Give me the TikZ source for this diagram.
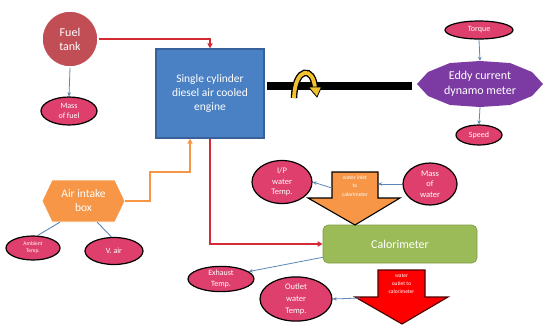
\documentclass[tikz,border=0pt]{standalone}
\usepackage{fontspec}
\setmainfont{Carlito}
\usetikzlibrary{shapes.geometric,arrows.meta,calc}
\definecolor{pinkc}{HTML}{DE3F6C}
\definecolor{tankc}{HTML}{C24E55}
\definecolor{engc}{HTML}{4A80C4}
\definecolor{engb}{HTML}{38609A}
\definecolor{purpc}{HTML}{7C3BA3}
\definecolor{orc}{HTML}{F79646}
\definecolor{grc}{HTML}{9BBB59}
\definecolor{grb}{HTML}{7E9A45}
\definecolor{redc}{HTML}{D42A34}
\definecolor{bluec}{HTML}{5B86B5}
\definecolor{yelc}{HTML}{F2C12E}
\begin{document}
\begin{tikzpicture}[x=1pt,y=-1pt,
  pinkell/.style={ellipse, fill=pinkc, draw=black, line width=1.2pt, text=white, inner sep=0pt, align=center},
  conn/.style={draw=bluec, line width=0.8pt, -{Stealth[length=4pt,width=3.5pt]}},
  plainconn/.style={draw=bluec, line width=0.9pt},
  redline/.style={draw=redc, line width=1.6pt, -{Triangle[length=5pt,width=5pt]}},
  orline/.style={draw=orc, line width=1.6pt, -{Triangle[length=5pt,width=5pt]}},
  wtext/.style={text=white, align=center, inner sep=0pt}]
\useasboundingbox (0,0) rectangle (544,325);

% fuel tank and mass of fuel
\node[circle, fill=tankc, draw=white, line width=1.5pt, minimum size=56pt, text=white, align=center,
  font=\fontsize{12}{14}\selectfont, inner sep=0pt] (fuel) at (70,39) {Fuel\\tank};
\node[pinkell, minimum width=56pt, minimum height=28pt, font=\fontsize{8}{10}\selectfont] (mfuel) at (69,111) {Mass\\of fuel};

% engine
\node[rectangle, fill=engc, draw=engb, line width=1.2pt, minimum width=108pt, minimum height=89pt,
  text=white, align=center, font=\fontsize{11.5}{14}\selectfont] (engine) at (210,93.5)
  {Single cylinder\\diesel air cooled\\engine};

% shaft
\draw[line width=8pt] (267,86) -- (412,86);
\draw[line width=6.5pt, black] (294,98) .. controls (295,66) and (314,66) .. (315,89);
\draw[line width=3.8pt, yelc] (294,98) .. controls (295,66) and (314,66) .. (315,89);
\draw[fill=yelc, draw=black, line width=0.8pt] (308.5,87) -- (321.5,87) -- (317,97) -- cycle;

% eddy current dynamometer
\fill[purpc] (417,84) -- (428,72) -- (450,63) -- (480,61) -- (510,63) -- (532,72) -- (543,84)
  -- (532,96) -- (510,105) -- (480,107) -- (450,105) -- (428,96) -- cycle;
\node[wtext, minimum width=126pt, minimum height=46pt, font=\fontsize{12}{15}\selectfont] (eddy) at (480,84)
  {Eddy current\\dynamo meter};
\node[pinkell, minimum width=68pt, minimum height=18pt, font=\fontsize{8}{10}\selectfont] (torque) at (479,30) {Torque};
\node[pinkell, minimum width=46pt, minimum height=20pt, font=\fontsize{8}{10}\selectfont] (speed) at (479,135) {Speed};

% air intake
\fill[orc] (42,201) -- (52,180) -- (115,180) -- (125,201) -- (115,222) -- (52,222) -- cycle;
\draw[white, line width=0.8pt] (42,201) -- (52,180) -- (115,180) -- (125,201) -- (115,222) -- (52,222) -- cycle;
\node[wtext, minimum width=83pt, minimum height=42pt, font=\fontsize{11.5}{14}\selectfont] (air) at (83.5,201)
  {Air intake\\box};
\node[pinkell, minimum width=54pt, minimum height=24pt, font=\fontsize{5.5}{7}\selectfont] (amb) at (33,248) {Ambient\\Temp.};
\node[pinkell, minimum width=58pt, minimum height=27pt, font=\fontsize{8}{10}\selectfont] (vair) at (114,251) {V. air};

% calorimeter
\node[rectangle, rounded corners=5pt, fill=grc, draw=grb, line width=0.6pt, minimum width=154pt, minimum height=38pt,
  text=white, font=\fontsize{12}{14}\selectfont] (calo) at (400,244) {Calorimeter};

% water inlet block arrow
\draw[fill=orc, draw=black, line width=1.1pt] (332,172) -- (378,172) -- (378,198) -- (400,198) -- (355,225)
  -- (308,198) -- (332,198) -- cycle;
\node[wtext, font=\fontsize{5.5}{8.5}\selectfont] (inlet) at (355,186) {water inlet\\to\\calorimeter};
\node[pinkell, minimum width=60pt, minimum height=43pt, font=\fontsize{8.5}{10.5}\selectfont] (ipw) at (282,182) {I/P\\water\\Temp.};
\node[pinkell, minimum width=54pt, minimum height=42pt, font=\fontsize{8.5}{10.5}\selectfont] (mwater) at (430,184) {Mass\\of\\water};

% water outlet block arrow
\draw[fill=red, draw=black!70!red, line width=1.1pt] (378,270) -- (425,270) -- (425,297) -- (448,297) -- (402,324)
  -- (355,297) -- (378,297) -- cycle;
\node[wtext, font=\fontsize{5.5}{8}\selectfont] (outlet) at (401.5,284) {water\\outlet to\\calorimeter};
\node[pinkell, minimum width=66pt, minimum height=22pt, font=\fontsize{8}{11}\selectfont] (exh) at (221,279) {Exhaust\\Temp.};
\node[pinkell, minimum width=72pt, minimum height=40pt, font=\fontsize{8.5}{12}\selectfont] (outw) at (296,299) {Outlet\\water\\Temp.};

% connectors
\draw[conn] (fuel.south) -- (mfuel.north);
\draw[redline] (fuel.east) -| (engine.north);
\draw[redline] (engine.south) |- (calo.west);
\coordinate (airin) at (190,172);
\draw[orline] (air.east) -- ++(25,0) |- (airin) -- (airin |- engine.south);
\draw[plainconn] ([xshift=18pt]air.south west) -- (amb.70);
\draw[plainconn] ([xshift=-28pt]air.south east) -- (vair.100);
\draw[conn] (torque.south) -- (eddy.north);
\draw[conn] (eddy.south) -- (speed.north);
\draw[conn] ([yshift=-2pt]inlet.west -| 332,0) -- (ipw.east);
\draw[conn] (mwater.west) -- (378,184);
\draw[conn] ([yshift=6pt]calo.south west) -- (exh.15);
\draw[conn] (360,298) -- (outw.east);
\end{tikzpicture}
\end{document}
